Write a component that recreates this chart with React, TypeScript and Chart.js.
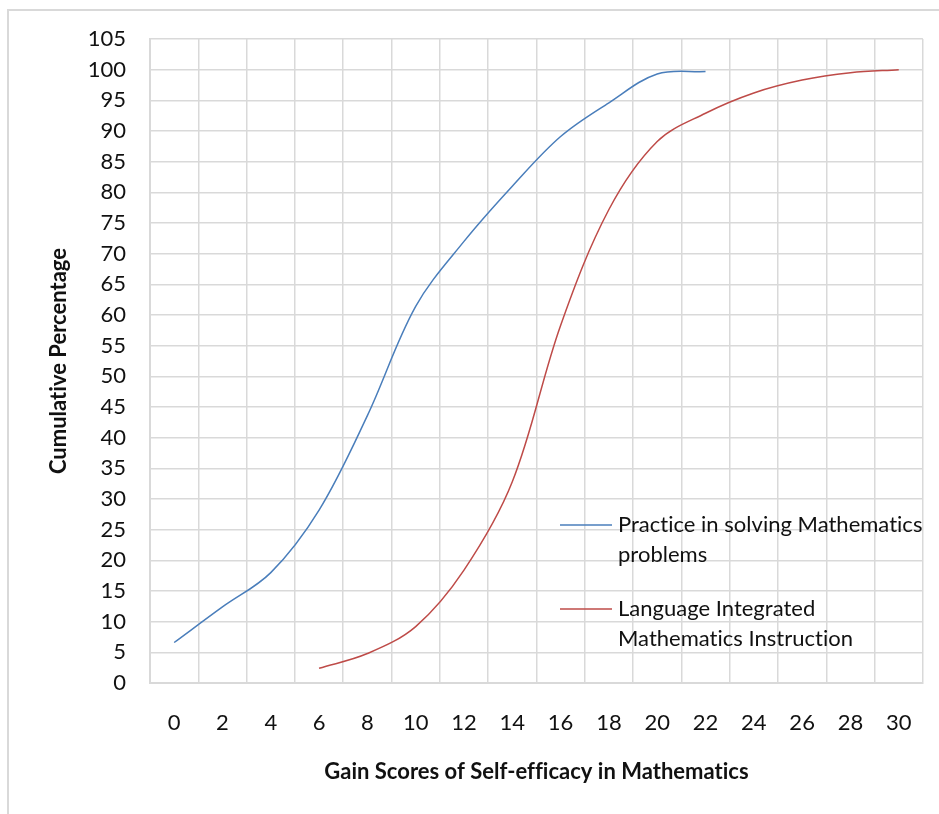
import React, { useEffect, useRef } from 'react';
import { Chart, registerables } from 'chart.js';

Chart.register(...registerables);

const categories = ['0', '2', '4', '6', '8', '10', '12', '14', '16', '18', '20', '22', '24', '26', '28', '30'];
const practiceValues = [6.6, 12.4, 18.0, 28.2, 43.6, 61.4, 72.0, 81.0, 89.1, 94.6, 99.3, 99.7, null, null, null, null];
const languageValues = [null, null, null, 2.4, 4.8, 9.2, 18.4, 32.8, 58.3, 77.2, 88.3, 92.9, 96.2, 98.3, 99.5, 100];
const seriesLabels = ['Practice in solving Mathematics problems', 'Language Integrated Mathematics Instruction'];
const legendLines = [
  ['Practice in solving Mathematics', 'problems'],
  ['Language Integrated', 'Mathematics Instruction'],
];
const seriesColors = ['#4a7ebb', '#be4b48'];
const xTitle = 'Gain Scores of Self-efficacy in Mathematics';
const yTitle = 'Cumulative Percentage';
const yMin = 0;
const yMax = 105;
const yStep = 5;

const FONT = 'Lato';
const TICK_SIZE = 22;
const TITLE_SIZE = 22;
const GRID = '#d9d9d9';

const noLigatures = {
  id: 'noLigatures',
  beforeDraw(chart: any) {
    try {
      (chart.ctx as any).letterSpacing = '0.01px';
    } catch (e) {}
  },
};

const insideLegend = {
  id: 'insideLegend',
  afterDraw(chart: any) {
    const ctx = chart.ctx;
    const lineX0 = 560;
    const lineX1 = 612;
    const textX = 618;
    const startYs = [525, 609];
    const lineGap = 30;
    ctx.save();
    try {
      (ctx as any).letterSpacing = '0.01px';
    } catch (e) {}
    ctx.font = `${TICK_SIZE}px ${FONT}`;
    ctx.textBaseline = 'middle';
    ctx.textAlign = 'left';
    chart.data.datasets.forEach((ds: any, i: number) => {
      const y = startYs[i];
      ctx.strokeStyle = ds.borderColor;
      ctx.lineWidth = 1.5;
      ctx.beginPath();
      ctx.moveTo(lineX0, y);
      ctx.lineTo(lineX1, y);
      ctx.stroke();
      ctx.fillStyle = '#111';
      legendLines[i].forEach((t, j) => ctx.fillText(t, textX, y + j * lineGap));
    });
    ctx.restore();
  },
};

export default function App() {
  const ref = useRef<HTMLCanvasElement | null>(null);
  useEffect(() => {
    if (!ref.current) return;
    const chart = new Chart(ref.current, {
      type: 'line',
      data: {
        labels: categories,
        datasets: [
          {
            label: seriesLabels[0],
            data: practiceValues,
            borderColor: seriesColors[0],
            backgroundColor: seriesColors[0],
            borderWidth: 1.5,
            pointRadius: 0,
            tension: 0.35,
            fill: false,
          },
          {
            label: seriesLabels[1],
            data: languageValues,
            borderColor: seriesColors[1],
            backgroundColor: seriesColors[1],
            borderWidth: 1.5,
            pointRadius: 0,
            tension: 0.35,
            fill: false,
          },
        ],
      },
      options: {
        animation: false,
        responsive: false,
        maintainAspectRatio: false,
        devicePixelRatio: 1,
        layout: { padding: { left: 0, top: 39, right: 16, bottom: 0 } },
        plugins: {
          legend: { display: false },
          tooltip: { enabled: false },
        },
        scales: {
          x: {
            type: 'category',
            offset: true,
            grid: { offset: true, color: GRID, lineWidth: 1.5, drawTicks: false },
            border: { color: GRID, width: 2 },
            ticks: {
              color: '#111',
              font: { family: FONT, size: TICK_SIZE },
              padding: 27,
              maxRotation: 0,
              autoSkip: false,
            },
            title: {
              display: true,
              text: xTitle,
              color: '#111',
              font: { family: FONT, size: TITLE_SIZE, weight: 'bold' },
              padding: { top: 0, bottom: 29 },
            },
            afterFit: (s: any) => {
              s.height = 131;
            },
          },
          y: {
            min: yMin,
            max: yMax,
            grid: { color: GRID, lineWidth: 1.5, drawTicks: false },
            border: { color: GRID, width: 2 },
            ticks: {
              stepSize: yStep,
              color: '#111',
              font: { family: FONT, size: TICK_SIZE },
              padding: 24,
            },
            title: {
              display: true,
              text: yTitle,
              color: '#111',
              font: { family: FONT, size: TITLE_SIZE, weight: 'bold' },
              padding: { top: 46, bottom: 0 },
            },
            afterFit: (s: any) => {
              s.width = 150;
            },
          },
        },
      },
      plugins: [noLigatures, insideLegend],
    });
    return () => chart.destroy();
  }, []);

  return (
    <div>
      <div
        style={{
          position: 'absolute',
          left: 7,
          top: 9,
          width: 932,
          height: 805,
          borderLeft: `2px solid ${GRID}`,
          borderTop: `2px solid ${GRID}`,
          boxSizing: 'border-box',
        }}
      />
      <canvas
        ref={ref}
        width={939}
        height={814}
        style={{ position: 'absolute', left: 0, top: 0, width: 939, height: 814 }}
      />
    </div>
  );
}
